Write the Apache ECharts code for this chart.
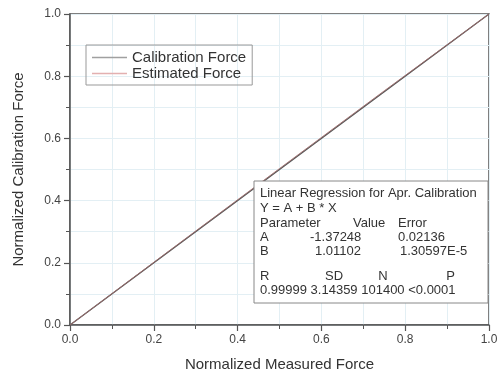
<!DOCTYPE html>
<html>
<head>
<meta charset="utf-8">
<script src="https://cdn.jsdelivr.net/npm/echarts@6/dist/echarts.min.js"></script>
<style>
  html, body { margin: 0; padding: 0; background: #fff; }
  #chart { width: 502px; height: 372px; }
</style>
</head>
<body>
<div id="chart"></div>
<script>
const calibration = [[0, 0], [0.25, 0.25], [0.5, 0.5], [0.75, 0.75], [1.0, 1.0]];
const estimated = [[0, 0], [0.25, 0.252], [0.5, 0.503], [0.75, 0.753], [1.0, 1.0]];
const regTitle = ['Linear Regression for Apr. Calibration', 'Y = A + B * X'];
const paramHeader = ['Parameter', 'Value', 'Error'];
const paramRows = [
  ['A', '-1.37248', '0.02136'],
  ['B', '1.01102', '1.30597E-5']
];
const statHeader = ['R', 'SD', 'N', 'P'];
const statValues = ['0.99999', '3.14359', '101400', '<0.0001'];

const chart = echarts.init(document.getElementById('chart'));
const font = 'Liberation Sans, Arial, sans-serif';
const gridLine = { show: true, lineStyle: { color: '#e3eff4', width: 1 } };

function axis(name, gap) {
  return {
    type: 'value',
    min: 0,
    max: 1,
    interval: 0.2,
    name: name,
    nameLocation: 'middle',
    nameGap: gap,
    nameTextStyle: { fontFamily: font, fontSize: 15, color: '#333' },
    axisLine: { show: true, lineStyle: { color: '#555', width: 1.5 } },
    axisTick: { show: true, length: 6, lineStyle: { color: '#555', width: 1.2 } },
    minorTick: { show: true, splitNumber: 2, length: 4, lineStyle: { color: '#555', width: 1 } },
    axisLabel: {
      fontFamily: font, fontSize: 12, color: '#444', margin: 9,
      formatter: v => v.toFixed(1)
    },
    splitLine: gridLine,
    minorSplitLine: gridLine
  };
}

// regression box text
const texts = [];
function t(x, cy, s, align) {
  texts.push({
    type: 'text', x: x, y: cy, z: 11,
    style: {
      text: s, fontFamily: font, fontSize: 13, fill: '#333',
      align: align || 'left', verticalAlign: 'middle'
    }
  });
}
t(260, 193, regTitle[0]);
t(260, 208, regTitle[1]);
[260, 353, 398].forEach((x, i) => t(x, 223, paramHeader[i]));
paramRows.forEach((row, r) => {
  [260, r === 0 ? 310 : 315, r === 0 ? 398 : 400].forEach((x, i) => t(x, 237 + r * 14, row[i]));
});
t(260, 276, statHeader[0]);
t(334, 276, statHeader[1], 'center');
t(383, 276, statHeader[2], 'center');
t(455, 276, statHeader[3], 'right');
t(260, 290, statValues.join(' '));

chart.setOption({
  animation: false,
  grid: {
    left: 70, right: 13, top: 14, bottom: 47,
    outerBoundsMode: 'none',
    show: true, borderColor: '#555', borderWidth: 1.5
  },
  legend: {
    orient: 'vertical',
    left: 86, top: 45,
    padding: [5, 6, 4, 6],
    itemGap: 1,
    itemWidth: 35,
    itemHeight: 1.5,
    icon: 'rect',
    borderColor: '#999',
    borderWidth: 1,
    borderRadius: 0,
    textStyle: { fontFamily: font, fontSize: 15, color: '#333' },
    data: [
      { name: 'Calibration Force', itemStyle: { color: '#a0a0a0' } },
      { name: 'Estimated Force', itemStyle: { color: '#e3b0b0' } }
    ]
  },
  xAxis: axis('Normalized Measured Force', 32),
  yAxis: axis('Normalized Calibration Force', 44),
  series: [
    {
      name: 'Calibration Force', type: 'line', data: calibration,
      showSymbol: false, lineStyle: { color: '#5a5a5a', width: 1.4 },
      itemStyle: { color: '#5a5a5a' }
    },
    {
      name: 'Estimated Force', type: 'line', data: estimated,
      showSymbol: false, lineStyle: { color: '#a06a6a', width: 1, opacity: 0.85 },
      itemStyle: { color: '#a06a6a' }
    }
  ],
  graphic: [
    {
      type: 'rect', x: 254, y: 181, z: 10,
      shape: { width: 234, height: 122 },
      style: { fill: '#fff', stroke: '#888', lineWidth: 1 }
    }
  ].concat(texts)
});
</script>
</body>
</html>
